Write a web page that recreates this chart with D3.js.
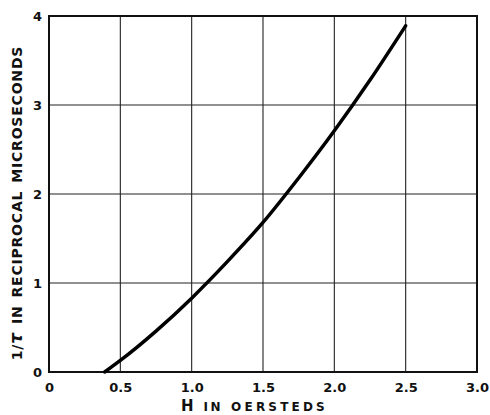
<!DOCTYPE html>
<html>
<head>
<meta charset="utf-8">
<script src="https://cdn.jsdelivr.net/npm/d3@7"></script>
<style>
  body { margin: 0; background: #fff; }
  text { font-family: "DejaVu Sans", sans-serif; fill: #111; }
</style>
</head>
<body>
<div id="chart"></div>
<script>
var svgWidth = 490;
var svgHeight = 415;

var margin = { top: 16, right: 13, bottom: 43, left: 49 };
var width = svgWidth - margin.left - margin.right;
var height = svgHeight - margin.top - margin.bottom;

// curve
var hValues = [0.39, 0.5, 0.75, 1.0, 1.25, 1.5, 1.75, 2.0, 2.25, 2.5];
var rateValues = [0, 0.13, 0.46, 0.83, 1.24, 1.68, 2.18, 2.71, 3.28, 3.89];

var xTicks = [0, 0.5, 1.0, 1.5, 2.0, 2.5, 3.0];
var xTickLabels = ["0", "0.5", "1.0", "1.5", "2.0", "2.5", "3.0"];
var yTicks = [0, 1, 2, 3, 4];

var svg = d3.select("#chart")
  .append("svg")
  .attr("width", svgWidth)
  .attr("height", svgHeight);

var chartGroup = svg.append("g")
  .attr("transform", `translate(${margin.left}, ${margin.top})`);

var xScale = d3.scaleLinear().domain([0, 3]).range([0, width]);
var yScale = d3.scaleLinear().domain([0, 4]).range([height, 0]);

// grid
chartGroup.append("g")
  .selectAll("line")
  .data(xTicks.slice(1, -1))
  .enter()
  .append("line")
  .attr("x1", d => xScale(d))
  .attr("x2", d => xScale(d))
  .attr("y1", 0)
  .attr("y2", height)
  .attr("stroke", "#222")
  .attr("stroke-width", 1.1);

chartGroup.append("g")
  .selectAll("line")
  .data(yTicks.slice(1, -1))
  .enter()
  .append("line")
  .attr("x1", 0)
  .attr("x2", width)
  .attr("y1", d => yScale(d))
  .attr("y2", d => yScale(d))
  .attr("stroke", "#222")
  .attr("stroke-width", 1.1);

// frame
chartGroup.append("rect")
  .attr("x", 0)
  .attr("y", 0)
  .attr("width", width)
  .attr("height", height)
  .attr("fill", "none")
  .attr("stroke", "#111")
  .attr("stroke-width", 2);

// axes (labels only)
var bottomAxis = d3.axisBottom(xScale)
  .tickValues(xTicks)
  .tickFormat((d, i) => xTickLabels[i])
  .tickSize(0)
  .tickPadding(11);

var leftAxis = d3.axisLeft(yScale)
  .tickValues(yTicks)
  .tickFormat(d3.format("d"))
  .tickSize(0)
  .tickPadding(7);

var xAxis = chartGroup.append("g")
  .attr("transform", `translate(0, ${height})`)
  .call(bottomAxis);

var yAxis = chartGroup.append("g")
  .call(leftAxis);

[xAxis, yAxis].forEach(function(ax) {
  ax.select(".domain").remove();
  ax.selectAll("text")
    .style("font-family", "DejaVu Sans, sans-serif")
    .style("font-size", "13px")
    .style("font-weight", "bold")
    .attr("fill", "#111");
});

// curve
var line = d3.line()
  .x((d, i) => xScale(hValues[i]))
  .y(d => yScale(d))
  .curve(d3.curveMonotoneX);

chartGroup.append("path")
  .datum(rateValues)
  .attr("d", line)
  .attr("fill", "none")
  .attr("stroke", "#000")
  .attr("stroke-width", 3.5)
  .attr("stroke-linecap", "round");

// x axis title
var xTitle = svg.append("text")
  .attr("x", 181)
  .attr("y", 411)
  .attr("text-anchor", "start")
  .style("font-weight", "bold");
xTitle.append("tspan").style("font-size", "15px").text("H");
xTitle.append("tspan").style("font-size", "12px").style("letter-spacing", "2.5px").attr("dx", 10).text("IN");
xTitle.append("tspan").style("font-size", "12px").style("letter-spacing", "3.2px").attr("dx", 8).text("OERSTEDS");

// y axis title
var yTitle = svg.append("text")
  .attr("transform", "translate(22, 203) rotate(-90)")
  .attr("text-anchor", "middle")
  .style("font-size", "14px")
  .style("font-weight", "bold")
  .style("letter-spacing", "0.8px");
yTitle.append("tspan").text("1/");
yTitle.append("tspan").style("font-size", "17px").style("font-style", "italic").text("τ");
yTitle.append("tspan").attr("dx", 8).text("IN");
yTitle.append("tspan").attr("dx", 8).text("RECIPROCAL");
yTitle.append("tspan").attr("dx", 8).text("MICROSECONDS");
</script>
</body>
</html>
